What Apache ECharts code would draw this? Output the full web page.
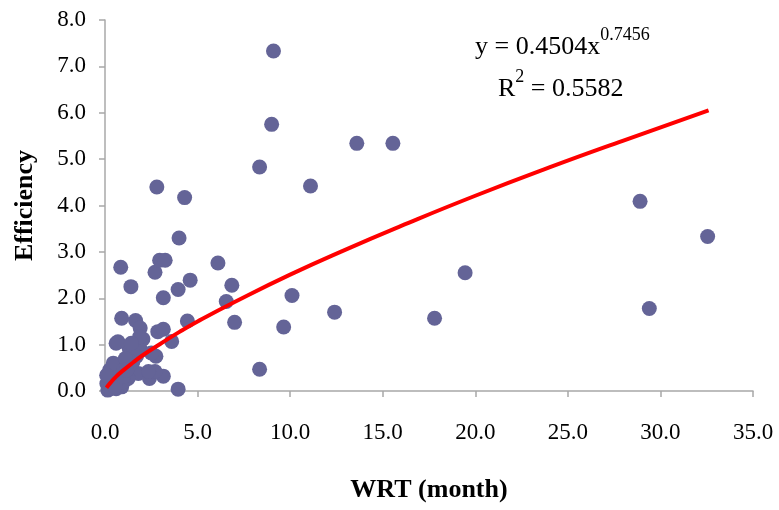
<!DOCTYPE html>
<html>
<head>
<meta charset="utf-8">
<script src="https://cdn.jsdelivr.net/npm/echarts@6/dist/echarts.min.js"></script>
<style>
html,body{margin:0;padding:0;background:#fff;}
#c{width:779px;height:510px;}
</style>
</head>
<body>
<div id="c"></div>
<script>
// WRT (month) values of observed points
const wrt = [
  9.1, 9.0, 8.35, 13.6, 15.55, 11.1, 2.8, 4.3, 4.0, 28.9,
  32.55, 6.1, 19.45, 0.85, 2.7, 2.95, 3.25, 4.6, 6.85, 3.95,
  3.15, 6.55, 1.4, 10.1, 0.9, 1.65, 7.0, 4.45, 12.4, 9.65,
  17.8, 29.4, 8.35, 3.95, 1.9, 2.85, 3.15, 0.6, 1.3, 2.05,
  1.95, 3.6, 2.75, 1.7, 2.5, 1.8, 2.4, 3.15, 2.7, 2.35,
  1.25, 0.55, 0.1, 0.15, 0.25, 0.9, 1.25, 0.4, 0.6, 0.3,
  0.7, 1.0, 0.45, 0.2, 1.5, 1.1, 1.0, 0.18, 0.27, 0.54,
  0.99, 1.17, 0.09, 1.87, 0.7, 1.42
];
// Efficiency values of observed points
const efficiency = [
  7.33, 5.75, 4.83, 5.34, 5.34, 4.42, 4.40, 4.17, 3.30, 4.09,
  3.33, 2.76, 2.55, 2.67, 2.56, 2.82, 2.82, 2.39, 2.28, 2.19,
  2.01, 1.93, 2.25, 2.06, 1.57, 1.52, 1.48, 1.51, 1.70, 1.38,
  1.57, 1.78, 0.47, 0.04, 1.36, 1.28, 1.33, 1.03, 0.93, 1.12,
  0.88, 1.07, 0.75, 0.75, 0.82, 0.38, 0.27, 0.32, 0.42, 0.42,
  0.27, 0.24, 0.16, 0.02, 0.45, 0.09, 0.52, 0.30, 0.05, 0.10,
  0.38, 0.20, 0.60, 0.25, 0.62, 0.70, 0.45, 0.16, 0.06, 0.09,
  0.31, 0.45, 0.34, 1.17, 1.06, 1.03
];
// Power trend line
const trendX = [0.08, 0.3, 0.6, 1, 1.5, 2, 3, 4, 5, 7, 10, 13, 16, 20, 24, 28, 32.6];
const trendY = [0.07, 0.18, 0.31, 0.45, 0.61, 0.76, 1.02, 1.27, 1.50, 1.92, 2.51, 3.05, 3.56, 4.21, 4.82, 5.40, 6.05];
// Axis tick settings
const xTicks = {min: 0, max: 35, step: 5};
const yTicks = {min: 0, max: 8, step: 1};

const pts = wrt.map((x, i) => [x, efficiency[i]]);
const trend = trendX.map((x, i) => [x, trendY[i]]);

const FONT = 'Liberation Serif';
const chart = echarts.init(document.getElementById('c'));
chart.setOption({
  animation: false,
  backgroundColor: '#fff',
  grid: {left: 105, right: 26, top: 20, bottom: 119, containLabel: false},
  xAxis: {
    type: 'value', min: xTicks.min, max: xTicks.max, interval: xTicks.step,
    name: 'WRT (month)', nameLocation: 'middle', nameGap: 86,
    nameTextStyle: {fontFamily: FONT, fontSize: 26, fontWeight: 'bold', color: '#000'},
    axisLine: {show: true, lineStyle: {color: '#a8a8a8', width: 1.5}},
    axisTick: {show: true, inside: false, length: 6, lineStyle: {color: '#a8a8a8', width: 1.5}},
    axisLabel: {fontFamily: FONT, fontSize: 23, color: '#000', margin: 30,
      formatter: v => v.toFixed(1)},
    splitLine: {show: false}
  },
  yAxis: {
    type: 'value', min: yTicks.min, max: yTicks.max, interval: yTicks.step,
    name: 'Efficiency', nameLocation: 'middle', nameGap: 67, nameRotate: 90,
    nameTextStyle: {fontFamily: FONT, fontSize: 26, fontWeight: 'bold', color: '#000'},
    axisLine: {show: true, lineStyle: {color: '#a8a8a8', width: 1.5}},
    axisTick: {show: true, inside: false, length: 6, lineStyle: {color: '#a8a8a8', width: 1.5}},
    axisLabel: {fontFamily: FONT, fontSize: 23, color: '#000', margin: 19,
      formatter: v => v.toFixed(1)},
    splitLine: {show: false}
  },
  series: [
    {
      type: 'scatter', data: pts, symbol: 'circle', symbolSize: 15,
      itemStyle: {color: '#646497', opacity: 1}, z: 2
    },
    {
      type: 'line', data: trend, smooth: true, showSymbol: false, symbol: 'none',
      lineStyle: {color: '#ff0000', width: 4}, z: 3
    }
  ],
  graphic: [
    {
      type: 'text', left: 475, top: 26,
      style: {
        text: '{m|y = 0.4504x}{s|0.7456}',
        rich: {
          m: {fontFamily: FONT, fontSize: 26, color: '#000', lineHeight: 34, verticalAlign: 'bottom'},
          s: {fontFamily: FONT, fontSize: 18, color: '#000', lineHeight: 22, verticalAlign: 'top'}
        }
      }
    },
    {
      type: 'text', left: 498, top: 68,
      style: {
        text: '{m|R}{s|2}{m| = 0.5582}',
        rich: {
          m: {fontFamily: FONT, fontSize: 26, color: '#000', lineHeight: 34, verticalAlign: 'bottom'},
          s: {fontFamily: FONT, fontSize: 18, color: '#000', lineHeight: 22, verticalAlign: 'top'}
        }
      }
    }
  ]
});
</script>
</body>
</html>
